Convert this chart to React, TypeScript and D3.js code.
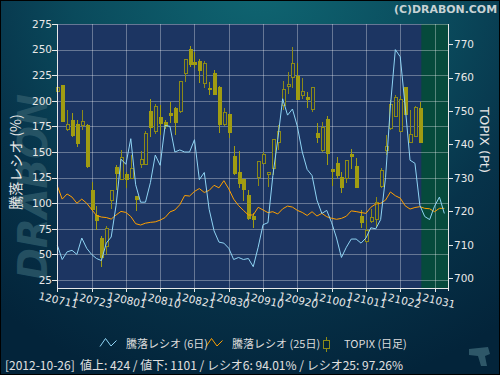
import React, { useEffect, useRef } from "react";
import * as d3 from "d3";

// x ticks every 7 trading days, starting 2012-07-11
const tickLabels = ["120711", "120723", "120801", "120810", "120821", "120830", "120910", "120920", "121001", "121011", "121022", "121031"];
const tickDays = [0, 7, 14, 21, 28, 35, 42, 49, 56, 63, 70, 77];

const ratioTicks = [25, 50, 75, 100, 125, 150, 175, 200, 225, 250, 275];
const topixTicks = [700, 710, 720, 730, 740, 750, 760, 770];

// TOPIX daily candles (7/11 .. 10/26)
const topixOpen = [
  755.9, 757.8, 744.5, 747.3, 746.0, 745.7, 745.7, 726.3, 719.0, 712.0,
  709.7, 723.3, 733.3, 729.6, 731.1, 730.1, 724.6, 734.1, 734.1, 750.0,
  744.1, 748.2, 746.6, 749.4, 750.9, 750.0, 761.3, 768.4, 764.7, 764.9,
  758.3, 756.9, 761.3, 757.1, 746.2, 749.0, 736.6, 731.7, 729.6, 724.9,
  718.5, 730.4, 734.4, 731.1, 732.9, 740.8, 751.8, 757.4, 760.1, 760.4,
  754.8, 754.1, 750.5, 743.3, 738.4, 747.7, 732.6, 734.4, 730.2, 730.1,
  737.1, 733.6, 718.7, 711.0, 717.2, 717.7, 727.7, 738.2, 744.8, 748.6,
  744.1, 757.1, 740.8, 742.5, 750.8,
];
const topixClose = [
  757.2, 747.1, 746.0, 742.8, 740.4, 746.9, 733.7, 720.7, 717.5, 706.5,
  715.0, 726.3, 731.6, 736.3, 729.6, 732.9, 723.7, 735.6, 743.3, 745.1,
  751.5, 746.5, 745.6, 748.8, 746.8, 758.9, 765.4, 764.1, 764.1, 762.4,
  764.3, 756.5, 755.0, 746.0, 749.6, 743.7, 731.4, 728.4, 726.6, 717.9,
  717.8, 735.1, 737.1, 731.9, 741.6, 744.0, 756.5, 758.1, 764.2, 753.5,
  756.0, 753.5, 757.3, 742.3, 745.3, 737.4, 732.2, 730.9, 727.2, 735.4,
  736.6, 727.4, 716.7, 714.3, 718.3, 722.9, 732.4, 739.6, 752.1, 754.1,
  753.5, 749.0, 743.0, 751.1, 740.8,
];
const topixHigh = [
  757.5, 757.8, 750.3, 749.3, 747.3, 750.3, 746.0, 728.9, 721.6, 712.5,
  715.5, 726.3, 733.9, 738.4, 731.9, 736.9, 724.6, 738.1, 744.1, 753.5,
  752.1, 751.8, 747.3, 752.8, 751.2, 759.0, 765.5, 769.4, 767.5, 765.4,
  764.9, 758.7, 762.2, 757.5, 750.8, 749.0, 739.6, 737.9, 729.6, 726.4,
  719.6, 735.1, 737.6, 731.9, 741.6, 745.8, 759.0, 761.6, 769.0, 764.4,
  759.8, 755.8, 757.3, 746.3, 746.8, 748.5, 732.6, 736.4, 731.9, 735.4,
  738.6, 735.9, 720.4, 717.5, 720.7, 724.4, 732.9, 742.8, 753.3, 754.8,
  754.5, 757.1, 750.3, 751.5, 752.8,
];
const topixLow = [
  755.5, 747.1, 744.0, 742.3, 739.2, 744.3, 732.9, 720.0, 714.3, 703.3,
  707.0, 720.7, 726.4, 729.6, 726.9, 730.0, 720.0, 732.9, 734.0, 742.2,
  743.0, 742.8, 744.5, 746.3, 742.8, 749.5, 758.8, 763.0, 762.9, 758.4,
  757.0, 754.8, 755.0, 743.3, 745.5, 741.9, 730.9, 727.1, 723.2, 717.5,
  715.0, 727.7, 734.4, 727.4, 730.9, 738.4, 750.3, 755.1, 756.8, 753.5,
  753.5, 750.8, 749.8, 740.4, 737.6, 733.9, 727.6, 729.9, 725.4, 728.4,
  732.6, 727.4, 715.0, 710.5, 716.5, 715.0, 726.9, 736.9, 744.3, 748.3,
  744.1, 748.8, 740.8, 742.3, 740.4,
];

// advance/decline ratio (%)
const ratio6 = [
  59, 45, 52.5, 54, 50, 66, 56, 50, 46, 44,
  61, 67, 98, 143, 138, 163, 118, 101, 101, 120,
  147, 137, 176, 175, 150, 152, 150, 150, 162, 123,
  130, 94, 73, 62, 61, 56, 45, 47, 45, 46,
  38, 57, 79, 81, 127, 162, 202, 186, 192, 175,
  150, 133, 127, 103, 90, 93, 81, 66, 47, 57,
  65, 65, 61, 66, 76, 75, 84, 125, 195, 250,
  243, 195, 142, 139, 98, 87, 84, 97, 106, 90,
];
const ratio25 = [
  117, 104, 109, 106, 100, 104, 100, 94, 88, 86.5,
  86, 84.5, 88.5, 92, 91, 87, 80, 78.7, 80.5, 81.3,
  81.8, 83.5, 86, 91.5, 93.4, 98.5, 107.5, 107, 111.5, 114.3,
  110.5, 112.5, 117.5, 115, 122, 114, 104, 97.7, 93, 88.5,
  88.5, 96, 93.4, 90.8, 91.7, 89.5, 94.5, 97.2, 96.2, 93,
  91, 88, 91.7, 87.5, 90.1, 86.8, 85.3, 84.3, 85.2, 87.3,
  92.5, 91.8, 90.9, 90.1, 96, 99.2, 99.9, 103, 111, 107.3,
  105, 97.5, 94.3, 95.8, 96.6, 95, 94.6, 91.7, 95, 95,
];

const legendLabels = ["騰落レシオ (6日)", "騰落レシオ (25日)", "TOPIX (日足)"];
const statusDate = "2012-10-26";
const statusAdv = 424;
const statusDec = 1101;
const statusR6 = 94.01;
const statusR25 = 97.26;

const fontNum = "'DejaVu Sans', sans-serif";
const fontJp = "'Noto Sans CJK JP', 'DejaVu Sans', sans-serif";

const App = () => {
  const ref = useRef<SVGSVGElement>(null);

  useEffect(() => {
    const svg = d3.select(ref.current);
    svg.selectAll("*").remove();

    const left = 57, right = 448, top = 24, bottom = 288;

    const x = d3.scaleLinear().domain([0, 79.75]).range([57.3, right]);
    const yL = d3.scaleLinear().domain([17.2, 275]).range([bottom, top]);
    const yR = d3.scaleLinear().domain([697.1, 776]).range([bottom, top]);

    // background
    const defs = svg.append("defs");
    const grad = defs
      .append("radialGradient")
      .attr("id", "bg")
      .attr("gradientUnits", "userSpaceOnUse")
      .attr("cx", 260)
      .attr("cy", -20)
      .attr("r", 420);
    grad.append("stop").attr("offset", "0%").attr("stop-color", "#0f6672");
    grad.append("stop").attr("offset", "45%").attr("stop-color", "#0a4a5c");
    grad.append("stop").attr("offset", "70%").attr("stop-color", "#07334a");
    grad.append("stop").attr("offset", "100%").attr("stop-color", "#03243a");

    svg.append("rect").attr("width", 500).attr("height", 375).attr("fill", "url(#bg)");

    // watermark
    svg
      .append("text")
      .attr("transform", "translate(47,187) rotate(-90)")
      .attr("text-anchor", "middle")
      .attr("font-family", fontNum)
      .attr("font-weight", "bold")
      .attr("font-style", "italic")
      .attr("font-size", 40)
      .attr("textLength", 186)
      .attr("lengthAdjust", "spacingAndGlyphs")
      .attr("fill", "#2f5c6c")
      .attr("opacity", 0.75)
      .text("DRABON");

    // plot area
    svg.append("rect").attr("x", left).attr("y", top).attr("width", right - left).attr("height", bottom - top).attr("fill", "#1c3562");
    const lastDay = topixOpen.length - 1;
    svg
      .append("rect")
      .attr("x", x(lastDay) + 1.5)
      .attr("y", top)
      .attr("width", right - x(lastDay) - 1.5)
      .attr("height", bottom - top)
      .attr("fill", "#064a3c");

    // grid
    const grid = svg.append("g").attr("stroke", "#ffffff").attr("stroke-opacity", 0.33).attr("shape-rendering", "crispEdges");
    grid
      .selectAll("line.h")
      .data(ratioTicks)
      .join("line")
      .attr("x1", left)
      .attr("x2", right)
      .attr("y1", (d) => Math.round(yL(d)) + 0.5)
      .attr("y2", (d) => Math.round(yL(d)) + 0.5);
    grid
      .selectAll("line.v")
      .data(tickDays.slice(1))
      .join("line")
      .attr("x1", (d) => Math.round(x(d)) + 0.5)
      .attr("x2", (d) => Math.round(x(d)) + 0.5)
      .attr("y1", top)
      .attr("y2", bottom);

    // candles
    const cg = svg.append("g").attr("shape-rendering", "crispEdges");
    topixOpen.forEach((o, i) => {
      const c = topixClose[i];
      const cx = Math.round(x(i)) + 0.5;
      const up = c >= o;
      const col = up ? "#8c8a18" : "#a09c12";
      cg.append("line")
        .attr("x1", cx)
        .attr("x2", cx)
        .attr("y1", yR(topixHigh[i]))
        .attr("y2", yR(topixLow[i]))
        .attr("stroke", col);
      const y0 = Math.round(yR(Math.max(o, c)));
      const y1 = Math.max(Math.round(yR(Math.min(o, c))), y0 + 1);
      cg.append("rect")
        .attr("x", cx - 1.5)
        .attr("y", y0 + 0.5)
        .attr("width", 3)
        .attr("height", y1 - y0)
        .attr("fill", up ? "#1c3562" : col)
        .attr("stroke", col);
    });

    // ratio lines
    const line = d3
      .line<number>()
      .x((_, i) => x(i))
      .y((d) => yL(d));
    svg.append("path").datum(ratio25).attr("d", line).attr("fill", "none").attr("stroke", "#ffa000").attr("stroke-width", 1);
    svg.append("path").datum(ratio6).attr("d", line).attr("fill", "none").attr("stroke", "#8fd4f4").attr("stroke-width", 1);

    // axes
    const axisCol = "#e8e8e8";
    const ax = svg.append("g").attr("stroke", axisCol).attr("shape-rendering", "crispEdges");
    ax.append("line").attr("x1", left + 0.5).attr("x2", left + 0.5).attr("y1", top).attr("y2", bottom + 3);
    ax.append("line").attr("x1", right + 0.5).attr("x2", right + 0.5).attr("y1", top).attr("y2", bottom + 3);
    ax.append("line").attr("x1", left).attr("x2", right).attr("y1", bottom + 0.5).attr("y2", bottom + 0.5);
    ax.selectAll("line.lt")
      .data(ratioTicks)
      .join("line")
      .attr("x1", left - 5)
      .attr("x2", left)
      .attr("y1", (d) => Math.round(yL(d)) + 0.5)
      .attr("y2", (d) => Math.round(yL(d)) + 0.5);
    ax.selectAll("line.rt")
      .data(topixTicks)
      .join("line")
      .attr("x1", right)
      .attr("x2", right + 5)
      .attr("y1", (d) => Math.round(yR(d)) + 0.5)
      .attr("y2", (d) => Math.round(yR(d)) + 0.5);
    ax.selectAll("line.bt")
      .data(tickDays)
      .join("line")
      .attr("x1", (d) => Math.round(x(d)) + 0.5)
      .attr("x2", (d) => Math.round(x(d)) + 0.5)
      .attr("y1", bottom)
      .attr("y2", bottom + 4);

    const txt = svg.append("g").attr("fill", axisCol).attr("font-family", fontNum).attr("font-size", 10.5);
    txt.selectAll("text.l")
      .data(ratioTicks)
      .join("text")
      .attr("x", left - 5)
      .attr("y", (d) => yL(d))
      .attr("dy", "0.36em")
      .attr("text-anchor", "end")
      .text((d) => d);
    txt.selectAll("text.r")
      .data(topixTicks)
      .join("text")
      .attr("x", right + 6)
      .attr("y", (d) => yR(d))
      .attr("dy", "0.36em")
      .text((d) => d);
    txt.selectAll("text.b")
      .data(tickDays)
      .join("text")
      .attr("transform", (d) => `translate(${x(d) + 1},${bottom + 12}) rotate(13)`)
      .attr("dy", "0.36em")
      .attr("text-anchor", "middle")
      .attr("font-size", 10.5)
      .text((d, i) => tickLabels[i]);

    // axis titles
    svg
      .append("text")
      .attr("transform", "translate(16,162) rotate(-90)")
      .attr("dy", "0.36em")
      .attr("text-anchor", "middle")
      .attr("font-family", fontJp)
      .attr("font-size", 14)
      .attr("fill", axisCol)
      .text("騰落レシオ (%)");
    svg
      .append("text")
      .attr("transform", "translate(485,140) rotate(90)")
      .attr("dy", "0.36em")
      .attr("text-anchor", "middle")
      .attr("font-family", fontNum)
      .attr("font-size", 13)
      .attr("fill", axisCol)
      .text("TOPIX (Pt)");

    // copyright
    svg
      .append("text")
      .attr("x", 497)
      .attr("y", 13)
      .attr("text-anchor", "end")
      .attr("font-family", fontNum)
      .attr("font-weight", "bold")
      .attr("font-size", 11)
      .attr("textLength", 103)
      .attr("lengthAdjust", "spacingAndGlyphs")
      .attr("fill", "#c8d2d4")
      .text("(C)DRABON.COM");

    // legend
    const lg = svg.append("g").attr("font-family", fontJp).attr("font-size", 11).attr("fill", "#dcdcdc");
    const zig = (x0: number) => `M${x0},346.5L${x0 + 5.5},338.5L${x0 + 11},346L${x0 + 16.5},340.5`;
    lg.append("path").attr("d", zig(100)).attr("fill", "none").attr("stroke", "#8fd4f4");
    lg.append("path").attr("d", zig(206)).attr("fill", "none").attr("stroke", "#ffa000");
    lg.append("line").attr("x1", 326.5).attr("x2", 326.5).attr("y1", 337).attr("y2", 352).attr("stroke", "#8c8a18");
    lg.append("rect").attr("x", 323.5).attr("y", 340.5).attr("width", 6).attr("height", 8).attr("fill", "#03243a").attr("stroke", "#8c8a18");
    lg.append("text").attr("x", 126).attr("y", 347.5).text(legendLabels[0]);
    lg.append("text").attr("x", 232).attr("y", 347.5).text(legendLabels[1]);
    lg.append("text").attr("x", 344).attr("y", 347.5).text(legendLabels[2]);

    // status line
    svg
      .append("text")
      .attr("x", 5)
      .attr("y", 369.5)
      .attr("font-family", fontJp)
      .attr("font-size", 12)
      .attr("fill", "#e0e0e0")
      .attr("textLength", 398)
      .attr("lengthAdjust", "spacingAndGlyphs")
      .style("white-space", "pre")
      .text(`[${statusDate}]  値上: ${statusAdv} / 値下: ${statusDec} / レシオ6: ${statusR6.toFixed(2)}% / レシオ25: ${statusR25.toFixed(2)}%`);

    // corner logo
    svg
      .append("path")
      .attr("d", "M469,349L488,347L490,354L485,356L487,366L481,366L478,356L469,355Z")
      .attr("fill", "#3a6474")
      .attr("opacity", 0.8);

    // frame
    svg.append("rect").attr("x", 0.5).attr("y", 0.5).attr("width", 499).attr("height", 374).attr("fill", "none").attr("stroke", "#000");
  }, []);

  return (
    <div>
      <svg ref={ref} width={500} height={375} style={{ position: "absolute", left: 0, top: 0, display: "block" }}></svg>
    </div>
  );
};

export default App;
